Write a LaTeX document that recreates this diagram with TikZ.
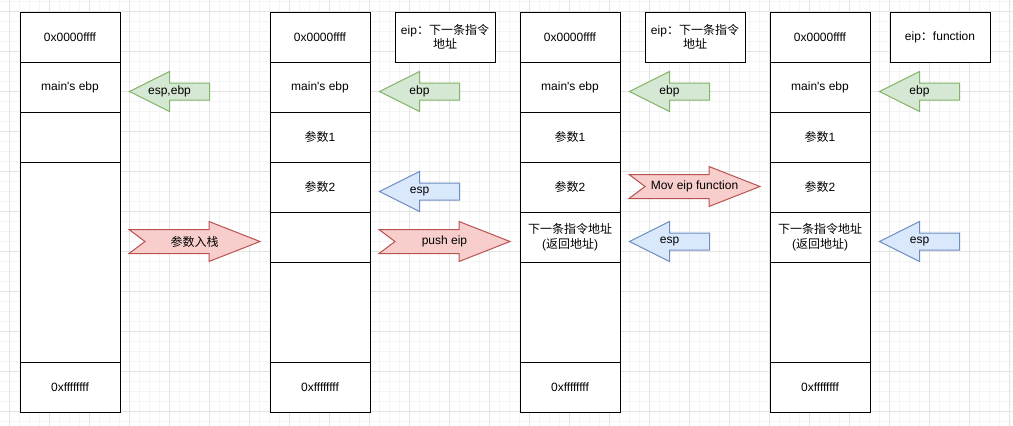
\documentclass[tikz,border=0pt]{standalone}
\usepackage{fontspec}
\setmainfont{Liberation Sans}
\newfontfamily\cjk{Noto Sans CJK SC}
\definecolor{gfill}{HTML}{D5E8D4}\definecolor{gline}{HTML}{82B366}
\definecolor{bfill}{HTML}{DAE8FC}\definecolor{bline}{HTML}{6C8EBF}
\definecolor{rfill}{HTML}{F8CECC}\definecolor{rline}{HTML}{B85450}
\definecolor{gridminor}{HTML}{F4F4F4}\definecolor{gridmajor}{HTML}{E3E3E3}
\newcommand{\ptrarrow}[5]{% name, style, tip x, centre y, text
  \filldraw[#2] (#3,#4) -- ({#3+40},{#4-20}) -- ({#3+40},{#4-8.5}) -- ({#3+80},{#4-8.5})
    -- ({#3+80},{#4+8.5}) -- ({#3+40},{#4+8.5}) -- ({#3+40},{#4+20}) -- cycle;
  \node[lbl] (#1) at ({#3+40},#4) {#5};}
\newcommand{\oparrow}[4]{% name, tail x, centre y, text
  \filldraw[redarrow] (#2,{#3-12}) -- ({#2+80},{#3-12}) -- ({#2+80},{#3-20}) -- ({#2+131},#3)
    -- ({#2+80},{#3+20}) -- ({#2+80},{#3+12}) -- (#2,{#3+12}) -- ({#2+16},#3) -- cycle;
  \node[lbl] (#1) at ({#2+65.5},#3) {#4};}
\begin{document}
\begin{tikzpicture}[x=1pt,y=-1pt,
  lbl/.style={inner sep=0pt, align=center, font=\fontsize{12}{14.5}\selectfont},
  cell/.style={draw=black, line width=1pt, fill=white, rectangle, minimum width=100pt,
    inner sep=0pt, anchor=north west, align=center, font=\fontsize{12}{14.5}\selectfont},
  greenarrow/.style={fill=gfill, draw=gline, line width=1pt},
  bluearrow/.style={fill=bfill, draw=bline, line width=1pt},
  redarrow/.style={fill=rfill, draw=rline, line width=1pt}]
\useasboundingbox (0,0) rectangle (1013,426);
\fill[white] (0,0) rectangle (1013,426);
% grid
\foreach \gx in {-0.5,9.5,...,1013} \draw[gridminor, line width=1pt] (\gx,0) -- (\gx,426);
\foreach \gy in {1.5,11.5,...,426} \draw[gridminor, line width=1pt] (0,\gy) -- (1013,\gy);
\foreach \gx in {9.5,49.5,...,1013} \draw[gridmajor, line width=1pt] (\gx,0) -- (\gx,426);
\foreach \gy in {11.5,51.5,...,426} \draw[gridmajor, line width=1pt] (0,\gy) -- (1013,\gy);
% column 1
\node[cell, minimum height=50pt] (a1) at (19.5,11.5) {0x0000ffff};
\node[cell, minimum height=50pt] (a2) at (19.5,61.5) {main\textquotesingle s ebp};
\node[cell, minimum height=50pt] (a3) at (19.5,111.5) {};
\node[cell, minimum height=200pt] (a4) at (19.5,161.5) {};
\node[cell, minimum height=50pt] (a5) at (19.5,361.5) {0xffffffff};
% columns 2-4
\foreach \c/\x in {b/269.5, c/519.5, d/769.5}{
  \node[cell, minimum height=50pt] (\c1) at (\x,11.5) {0x0000ffff};
  \node[cell, minimum height=50pt] (\c2) at (\x,61.5) {main\textquotesingle s ebp};
  \node[cell, minimum height=50pt] (\c3) at (\x,111.5) {{\cjk 参数}1};
  \node[cell, minimum height=50pt] (\c4) at (\x,161.5) {{\cjk 参数}2};
  \node[cell, minimum height=100pt] (\c6) at (\x,261.5) {};
  \node[cell, minimum height=50pt] (\c7) at (\x,361.5) {0xffffffff};
}
\node[cell, minimum height=50pt] (b5) at (269.5,211.5) {};
\node[cell, minimum height=50pt] (c5) at (519.5,211.5) {{\cjk 下一条指令地址}\\({\cjk 返回地址})};
\node[cell, minimum height=50pt] (d5) at (769.5,211.5) {{\cjk 下一条指令地址}\\({\cjk 返回地址})};
% eip boxes
\node[cell, minimum height=50pt] (eb) at (394.5,11.5) {eip{\cjk ：下一条指令}\\{\cjk 地址}};
\node[cell, minimum height=50pt] (ec) at (644.5,11.5) {eip{\cjk ：下一条指令}\\{\cjk 地址}};
\node[cell, minimum height=50pt] (ed) at (889.5,11.5) {eip{\cjk ：}function};
% pointer arrows
\ptrarrow{pa}{greenarrow}{129.5}{91.5}{esp,ebp}
\ptrarrow{pb1}{greenarrow}{379.5}{91.5}{ebp}
\ptrarrow{pb2}{bluearrow}{379.5}{191.5}{esp}
\ptrarrow{pc1}{greenarrow}{629.5}{91.5}{ebp}
\ptrarrow{pc2}{bluearrow}{629.5}{241.5}{esp}
\ptrarrow{pd1}{greenarrow}{879.5}{91.5}{ebp}
\ptrarrow{pd2}{bluearrow}{879.5}{241.5}{esp}
% operation arrows
\oparrow{o1}{129}{241.5}{{\cjk 参数入栈}}
\oparrow{o2}{379}{241.5}{push eip}
\oparrow{o3}{629}{186.5}{Mov eip function}
\end{tikzpicture}
\end{document}
